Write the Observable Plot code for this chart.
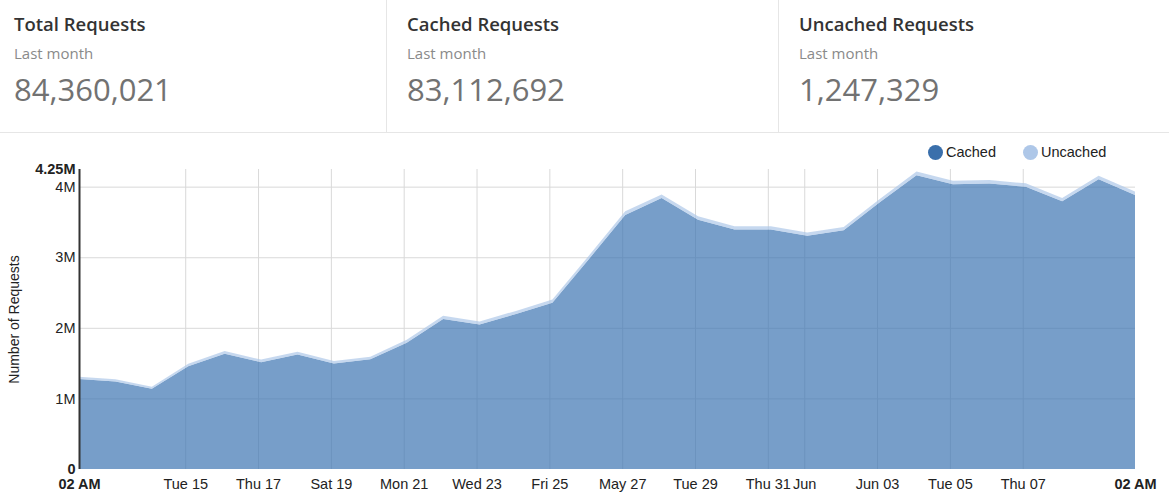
<!DOCTYPE html>
<html>
<head>
<meta charset="utf-8">
<script src="https://cdn.jsdelivr.net/npm/d3@7"></script>
<script src="https://cdn.jsdelivr.net/npm/@observablehq/plot@0.6"></script>
<style>
  html, body { margin: 0; padding: 0; background: #fff; width: 1169px; height: 501px; overflow: hidden; }
  #header { position: relative; height: 132px; border-bottom: 1px solid #e6e6e6; font-family: "Open Sans", sans-serif; }
  .col { position: absolute; top: 0; height: 132px; width: 392px; box-sizing: border-box; padding-left: 20px; }
  .col.sep { border-left: 1px solid #e6e6e6; }
  .title { position: absolute; top: 11px; font-size: 18.5px; font-weight: 600; color: #333; }
  .sub { position: absolute; top: 43px; font-size: 15px; color: #8a8a8a; }
  .num { position: absolute; top: 68px; font-size: 31px; font-weight: 400; color: #727272; }
  #chart { position: relative; height: 368px; }
  #legend { position: absolute; top: 11px; left: 928px; display: flex; align-items: center; font-family: "Liberation Sans", Arial, sans-serif; font-size: 14.5px; color: #222; }
  .sw { width: 15px; height: 15px; border-radius: 50%; display: inline-block; margin-right: 3px; }
  .item { display: flex; align-items: center; margin-right: 27px; }
</style>
</head>
<body>
<div id="header"></div>
<div id="chart"><div id="legend"></div></div>
<script>
// ---- data ----
const summaryTitles = ["Total Requests", "Cached Requests", "Uncached Requests"];
const summarySubtitle = "Last month";
const summaryValues = ["84,360,021", "83,112,692", "1,247,329"];

const seriesNames = ["Cached", "Uncached"];
const seriesColors = ["#3d75b2", "#aec7e8"];
const legendColors = ["#3a6fab", "#aec7e8"];

// daily points, 02 AM each day starting 2018-05-12
const startDay = "2018-05-12T02:00Z";
const cached = [1274, 1240, 1137, 1456, 1632, 1514, 1622, 1495, 1554, 1790,
                2125, 2047, 2196, 2354, 2972, 3600, 3838, 3532, 3394, 3394,
                3305, 3384, 3782, 4163, 4034, 4043, 3998, 3793, 4104, 3882]; // thousands
const uncached = [32, 30, 28, 34, 38, 36, 38, 35, 36, 40,
                  45, 43, 44, 46, 48, 50, 52, 48, 46, 46,
                  45, 46, 48, 52, 50, 50, 49, 47, 50, 48]; // thousands

const xTickDates = ["2018-05-15", "2018-05-17", "2018-05-19", "2018-05-21", "2018-05-23", "2018-05-25",
                    "2018-05-27", "2018-05-29", "2018-05-31", "2018-06-01", "2018-06-03", "2018-06-05", "2018-06-07"];
const xTickLabels = ["Tue 15", "Thu 17", "Sat 19", "Mon 21", "Wed 23", "Fri 25",
                     "May 27", "Tue 29", "Thu 31", "Jun", "Jun 03", "Tue 05", "Thu 07"];
const xEndLabel = "02 AM";
const yTicks = [1e6, 2e6, 3e6, 4e6];
const yMax = 4.25e6;
const yLabel = "Number of Requests";

// ---- header ----
const header = document.getElementById("header");
summaryTitles.forEach((t, i) => {
  const c = document.createElement("div");
  c.className = "col" + (i > 0 ? " sep" : "");
  c.style.left = (-6 + i * 392) + "px";
  c.innerHTML = `<div class="title">${t}</div><div class="sub">${summarySubtitle}</div><div class="num">${summaryValues[i]}</div>`;
  header.appendChild(c);
});

// ---- legend ----
const legend = document.getElementById("legend");
seriesNames.forEach((s, i) => {
  const it = document.createElement("div");
  it.className = "item";
  it.innerHTML = `<span class="sw" style="background:${legendColors[i]}"></span>${s}`;
  legend.appendChild(it);
});

// ---- chart ----
const t0 = new Date(startDay);
const day = 864e5;
const dates = cached.map((_, i) => new Date(+t0 + i * day));
const rows = [];
seriesNames.forEach((s, k) => {
  const vals = k === 0 ? cached : uncached;
  vals.forEach((v, i) => rows.push({date: dates[i], series: s, value: v * 1000}));
});
const xStart = dates[0], xEnd = dates[dates.length - 1];
const tickDates = xTickDates.map(d => new Date(d + "T00:00Z"));
const labelMap = new Map(tickDates.map((d, i) => [+d, xTickLabels[i]]));

const fmtM = d => d === 0 ? "0" : (d / 1e6) + "M";

const plot = Plot.plot({
  width: 1169,
  height: 368,
  marginTop: 36,
  marginBottom: 32,
  marginLeft: 79,
  marginRight: 34,
  style: {fontFamily: "'Liberation Sans', Arial, sans-serif", fontSize: "14.5px", color: "#222", background: "transparent", overflow: "visible"},
  x: {type: "utc", domain: [xStart, xEnd]},
  y: {domain: [0, yMax]},
  color: {domain: seriesNames, range: seriesColors},
  marks: [
    Plot.gridY(yTicks, {stroke: "#d9d9d9", strokeOpacity: 1}),
    Plot.gridX(tickDates, {stroke: "#d9d9d9", strokeOpacity: 1}),
    Plot.areaY(rows, {x: "date", y: "value", fill: "series", z: "series", fillOpacity: 0.7, curve: "linear"}),
    Plot.axisY(yTicks, {tickSize: 0, tickPadding: 4, tickFormat: fmtM, label: null}),
    Plot.axisY([0, yMax], {tickSize: 0, tickPadding: 4, tickFormat: fmtM, fontWeight: "bold", label: null}),
    Plot.axisX(tickDates, {tickSize: 0, tickPadding: 9, tickFormat: d => labelMap.get(+d), label: null}),
    Plot.axisX([xStart, xEnd], {tickSize: 0, tickPadding: 9, tickFormat: () => xEndLabel, fontWeight: "bold", label: null}),
    Plot.ruleX([xStart], {stroke: "#333", strokeWidth: 2}),
    Plot.text([yLabel], {text: d => d, frameAnchor: "left", textAnchor: "middle", rotate: -90, dx: -65, fill: "#222", fontSize: 14})
  ]
});
document.getElementById("chart").appendChild(plot);
</script>
</body>
</html>
